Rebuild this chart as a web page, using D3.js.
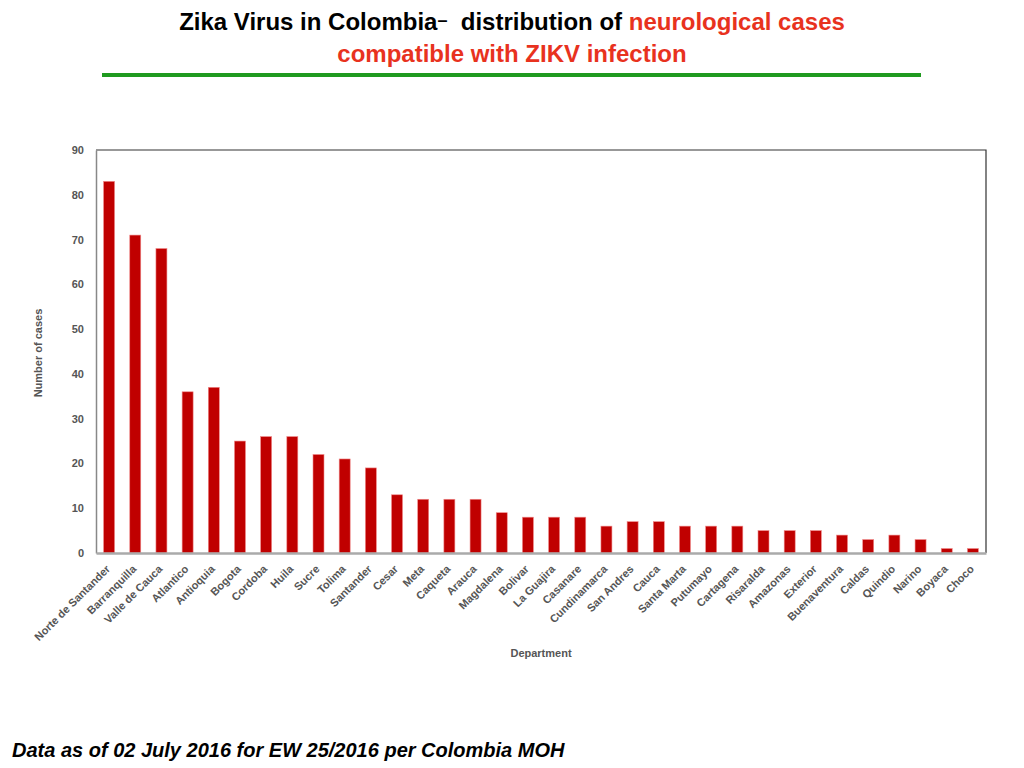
<!DOCTYPE html>
<html>
<head>
<meta charset="utf-8">
<script src="https://cdn.jsdelivr.net/npm/d3@7"></script>
<style>
  body { margin: 0; background: #fff; }
  svg { display: block; font-family: "Liberation Sans", Arial, sans-serif; }
</style>
</head>
<body>
<svg></svg>
<script>
const SVG = d3.select('svg').attr('width', 1024).attr('height', 768);

// ---- data
const DEPARTMENTS = ['Norte de Santander', 'Barranquilla', 'Valle de Cauca', 'Atlantico', 'Antioquia',
  'Bogota', 'Cordoba', 'Huila', 'Sucre', 'Tolima', 'Santander', 'Cesar', 'Meta', 'Caqueta', 'Arauca',
  'Magdalena', 'Bolivar', 'La Guajira', 'Casanare', 'Cundinamarca', 'San Andres', 'Cauca', 'Santa Marta',
  'Putumayo', 'Cartagena', 'Risaralda', 'Amazonas', 'Exterior', 'Buenaventura', 'Caldas', 'Quindio',
  'Narino', 'Boyaca', 'Choco'];
const CASES = [83, 71, 68, 36, 37, 25, 26, 26, 22, 21, 19, 13, 12, 12, 12, 9, 8, 8, 8, 6, 7, 7, 6, 6, 6,
  5, 5, 5, 4, 3, 4, 3, 1, 1];
const Y_TICKS = [0, 10, 20, 30, 40, 50, 60, 70, 80, 90];

// ---- layout
const LEFT = 96, RIGHT = 986, TOP = 150, BOTTOM = 553;

const xScale = d3.scaleBand().domain(DEPARTMENTS).range([LEFT, RIGHT]).paddingInner(0.58).paddingOuter(0.29);
const yScale = d3.scaleLinear().domain([0, 90]).range([BOTTOM, TOP]);

// ---- title
const title = SVG.append('text')
  .attr('x', 512).attr('y', 30)
  .attr('text-anchor', 'middle')
  .style('white-space', 'pre')
  .style('font-size', '24px').style('font-weight', 'bold');
title.append('tspan').attr('fill', '#000').text('Zika Virus in Colombia');
title.append('tspan').attr('fill', '#000').attr('dy', -4).style('font-size', '18px').text('\u2013');
title.append('tspan').attr('fill', '#000').attr('dy', 4).text('  distribution of ');
title.append('tspan').attr('fill', '#e8321e').text('neurological cases');

SVG.append('text')
  .attr('x', 512).attr('y', 62)
  .attr('text-anchor', 'middle')
  .attr('fill', '#e8321e')
  .style('font-size', '24px').style('font-weight', 'bold')
  .text('compatible with ZIKV infection');

SVG.append('line')
  .attr('x1', 102).attr('x2', 921).attr('y1', 75).attr('y2', 75)
  .attr('stroke', '#1f9a1f').attr('stroke-width', 4);

// ---- frame (top/right)
SVG.append('path')
  .attr('d', `M${LEFT},${TOP}H${RIGHT}V${BOTTOM}`)
  .attr('fill', 'none').attr('stroke', '#333').attr('stroke-width', 1.2);

// ---- bars
SVG.append('g').selectAll('rect')
  .data(CASES)
  .join('rect')
  .attr('x', (d, i) => xScale(DEPARTMENTS[i]))
  .attr('y', d => yScale(d))
  .attr('width', xScale.bandwidth())
  .attr('height', d => BOTTOM - yScale(d))
  .attr('fill', '#c00000')
  .attr('stroke', '#f08a8a').attr('stroke-width', 0.6);

// ---- y axis
const yAxis = d3.axisLeft(yScale).tickValues(Y_TICKS).tickSize(0).tickPadding(12);
const yAxisG = SVG.append('g').attr('transform', `translate(${LEFT},0)`).call(yAxis);
yAxisG.select('.domain').attr('stroke', '#888').attr('stroke-width', 1.5);
yAxisG.selectAll('text')
  .attr('fill', '#555').style('font-size', '11px').style('font-weight', 'bold')
  .style('font-family', '"Liberation Sans", Arial, sans-serif');

// ---- x axis
const xAxis = d3.axisBottom(xScale).tickSize(0);
const xAxisG = SVG.append('g').attr('transform', `translate(0,${BOTTOM})`).call(xAxis);
xAxisG.select('.domain').attr('stroke', '#aaa').attr('stroke-width', 2.5);
xAxisG.selectAll('text')
  .attr('fill', '#555').style('font-size', '11px').style('font-weight', 'bold')
  .style('font-family', '"Liberation Sans", Arial, sans-serif')
  .attr('text-anchor', 'end')
  .attr('y', 0)
  .attr('dy', '0.35em')
  .attr('transform', 'translate(-1,14) rotate(-45)');

// ---- axis titles
SVG.append('text')
  .attr('transform', 'translate(42,353) rotate(-90)')
  .attr('text-anchor', 'middle')
  .attr('fill', '#555')
  .style('font-size', '11px').style('font-weight', 'bold')
  .text('Number of cases');

SVG.append('text')
  .attr('x', 541).attr('y', 657)
  .attr('text-anchor', 'middle')
  .attr('fill', '#555')
  .style('font-size', '11px').style('font-weight', 'bold')
  .text('Department');

// ---- footnote
SVG.append('text')
  .attr('x', 12).attr('y', 757)
  .attr('fill', '#000')
  .style('font-size', '20px').style('font-weight', 'bold').style('font-style', 'italic')
  .text('Data as of 02 July 2016 for EW 25/2016 per Colombia MOH');
</script>
</body>
</html>
